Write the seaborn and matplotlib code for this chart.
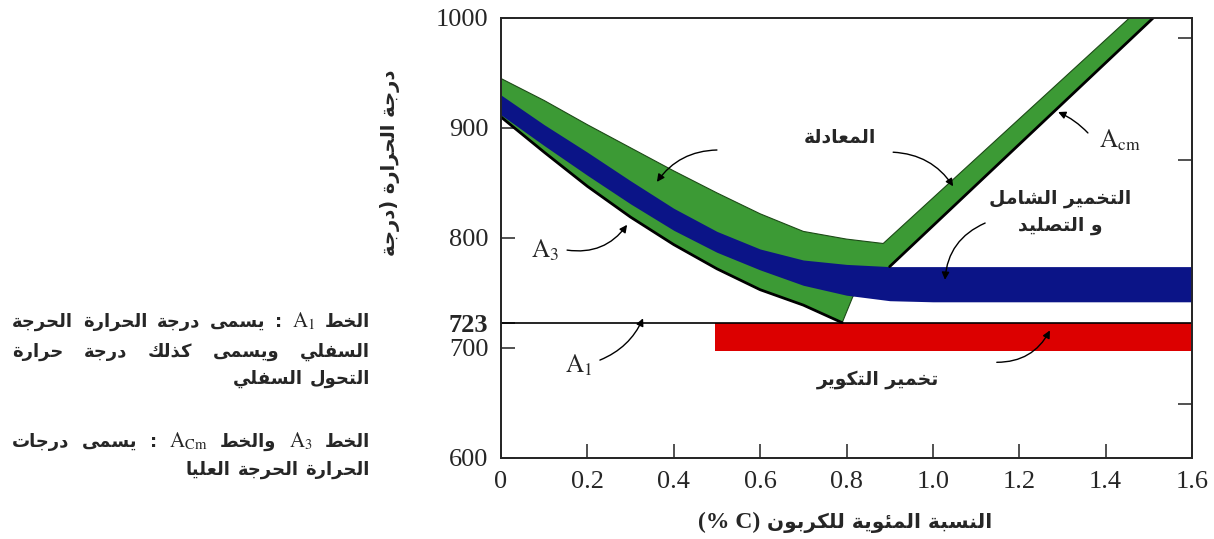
import matplotlib
matplotlib.use("Agg")
import matplotlib.pyplot as plt
import seaborn as sns
import numpy as np

# ---- values (carbon %, temperature C) ----
x_ticks = [0, 0.2, 0.4, 0.6, 0.8, 1.0, 1.2, 1.4, 1.6]
x_tick_labels = ["0", "0.2", "0.4", "0.6", "0.8", "1.0", "1.2", "1.4", "1.6"]
y_ticks = [600, 700, 723, 800, 900, 1000]
right_ticks_f = [1200, 1600, 1800]   # fahrenheit marks on the right spine

A1 = 723

# upper edge of the green (normalising) band, left branch
green_x = [0, 0.1, 0.2, 0.3, 0.4, 0.5, 0.6, 0.7, 0.8, 0.885]
green_top = [945, 925, 903, 882, 861, 841, 822, 806, 799, 795]
# upper edge of the green band, right branch (parallel to Acm)
green_r_x = [1.455]
green_r_t = [1000]

# Acm line
acm_x = [1.51, 0.90]
acm_t = [1000, 774]

# end of the thin green strip under the blue band
strip_x = [0.815]
strip_t = [747]

# A3 line
a3_x = [0, 0.1, 0.2, 0.3, 0.4, 0.5, 0.6, 0.7, 0.79]
a3_t = [910, 878, 847, 819, 794, 772, 753, 739, 723]

# blue band (full annealing / hardening)
blue_x = [0, 0.1, 0.2, 0.3, 0.4, 0.5, 0.6, 0.7, 0.8, 0.9, 1.0, 1.6]
blue_top = [930, 903, 878, 852, 827, 806, 790, 780, 776, 774, 774, 774]
blue_bot = [912, 884, 857, 831, 807, 787, 771, 757, 748, 743, 742, 742]

# red band (spheroidising)
red_x = [0.495, 1.6]
red_lo = [697, 697]
red_hi = [723, 723]

GREEN = "#3c9a35"
BLUE = "#0b1487"
RED = "#dc0000"

# ---- tiny arabic shaper (presentation forms) ----
_forms = {}
for ch, start, n in [("ء", 0xFE80, 1), ("آ", 0xFE81, 2), ("أ", 0xFE83, 2), ("ؤ", 0xFE85, 2),
                     ("إ", 0xFE87, 2), ("ئ", 0xFE89, 4), ("ا", 0xFE8D, 2), ("ب", 0xFE8F, 4),
                     ("ة", 0xFE93, 2), ("ت", 0xFE95, 4), ("ث", 0xFE99, 4), ("ج", 0xFE9D, 4),
                     ("ح", 0xFEA1, 4), ("خ", 0xFEA5, 4), ("د", 0xFEA9, 2), ("ذ", 0xFEAB, 2),
                     ("ر", 0xFEAD, 2), ("ز", 0xFEAF, 2), ("س", 0xFEB1, 4), ("ش", 0xFEB5, 4),
                     ("ص", 0xFEB9, 4), ("ض", 0xFEBD, 4), ("ط", 0xFEC1, 4), ("ظ", 0xFEC5, 4),
                     ("ع", 0xFEC9, 4), ("غ", 0xFECD, 4), ("ف", 0xFED1, 4), ("ق", 0xFED5, 4),
                     ("ك", 0xFED9, 4), ("ل", 0xFEDD, 4), ("م", 0xFEE1, 4), ("ن", 0xFEE5, 4),
                     ("ه", 0xFEE9, 4), ("و", 0xFEED, 2), ("ى", 0xFEEF, 2), ("ي", 0xFEF1, 4)]:
    _forms[ch] = [chr(start + k) for k in range(n)]


def ar(s):
    out = []
    for i, ch in enumerate(s):
        if ch not in _forms:
            out.append(ch)
            continue
        f = _forms[ch]
        prev = s[i - 1] if i > 0 else ""
        nxt = s[i + 1] if i < len(s) - 1 else ""
        jp = prev in _forms and len(_forms[prev]) == 4
        jn = len(f) == 4 and nxt in _forms and len(_forms[nxt]) >= 2
        if jp and jn:
            out.append(f[3])
        elif jp:
            out.append(f[1])
        elif jn:
            out.append(f[2])
        else:
            out.append(f[0])
    vis = "".join(out)[::-1]
    return vis.translate(str.maketrans("()", ")("))


sns.set_theme(style="white")
plt.rcParams["font.family"] = ["Liberation Serif", "DejaVu Sans"]
plt.rcParams["mathtext.fontset"] = "stix"

W, H = 1214, 539
fig = plt.figure(figsize=(W / 100, H / 100), dpi=100)
ax = fig.add_axes([501 / W, 1 - 458 / H, (1192 - 501) / W, (458 - 18) / H])

# green band polygon: top edge, Acm down, strip end, A3 back to x=0
poly_x = green_x + green_r_x + acm_x + strip_x + a3_x[::-1]
poly_t = green_top + green_r_t + acm_t + strip_t + a3_t[::-1]
ax.fill(poly_x, poly_t, color=GREEN, ec="#1d4a17", lw=0.8, zorder=2)
ax.fill_between(blue_x, blue_bot, blue_top, color=BLUE, lw=0, zorder=3)
ax.fill_between(red_x, red_lo, red_hi, color=RED, lw=0, zorder=2)

sns.lineplot(x=a3_x, y=a3_t, ax=ax, color="black", lw=2, zorder=4)
sns.lineplot(x=acm_x, y=acm_t, ax=ax, color="black", lw=2, zorder=4)
ax.axhline(A1, color="black", lw=1.2, zorder=4)

ax.set_xlim(0, 1.6)
ax.set_ylim(600, 1000)
ax.set_xticks(x_ticks)
ax.set_xticklabels(x_tick_labels)
ax.set_yticks(y_ticks)
ax.set_yticklabels([str(v) for v in y_ticks])
ax.tick_params(direction="in", length=10, width=1.1, color="#222222",
               labelsize=19, pad=9, left=True, bottom=True)
for lab in ax.get_yticklabels():
    if lab.get_text() == "723":
        lab.set_fontweight("bold")
for sp in ax.spines.values():
    sp.set_color("#222222")
    sp.set_linewidth(1.3)

ax2 = ax.twinx()
ax2.set_ylim(600, 1000)
ax2.set_yticks([(f - 32) * 5 / 9 for f in right_ticks_f])
ax2.set_yticklabels([])
ax2.tick_params(direction="in", length=10, width=1.1, color="#222222", right=True)
ax2.grid(False)
ax.grid(False)

arab = dict(family="DejaVu Sans", fontweight="bold")
arrow = dict(arrowstyle="-|>", color="black", lw=1, shrinkA=0, shrinkB=0, mutation_scale=11)

ax.text(0.785, 892, ar("المعادلة"), ha="center", va="center", fontsize=13.5, **arab)
ax.annotate("", xy=(0.361, 851), xytext=(0.50, 880),
            arrowprops=dict(arrow, connectionstyle="arc3,rad=0.25"))
ax.annotate("", xy=(1.047, 847), xytext=(0.908, 878),
            arrowprops=dict(arrow, connectionstyle="arc3,rad=-0.25"))

ax.text(1.433, 889, r"$\mathrm{A}_{\mathrm{cm}}$", ha="center", va="center", fontsize=18)
ax.annotate("", xy=(1.29, 914.5), xytext=(1.359, 895.5),
            arrowprops=dict(arrow, connectionstyle="arc3,rad=0.1"))

ax.text(1.294, 836, ar("التخمير الشامل"), ha="center", va="center", fontsize=13.5, **arab)
ax.text(1.294, 811, ar("و التصليد"), ha="center", va="center", fontsize=13.5, **arab)
ax.annotate("", xy=(1.028, 762), xytext=(1.121, 813.6),
            arrowprops=dict(arrow, connectionstyle="arc3,rad=0.3"))

ax.text(0.873, 671, ar("تخمير التكوير"), ha="center", va="center", fontsize=13.5, **arab)
ax.annotate("", xy=(1.271, 716), xytext=(1.148, 687),
            arrowprops=dict(arrow, connectionstyle="arc3,rad=0.3"))

ax.text(0.102, 789, r"$\mathrm{A}_{3}$", ha="center", va="center", fontsize=18)
ax.annotate("", xy=(0.292, 812), xytext=(0.153, 789),
            arrowprops=dict(arrow, connectionstyle="arc3,rad=0.3"))
ax.text(0.181, 684.5, r"$\mathrm{A}_{1}$", ha="center", va="center", fontsize=18)
ax.annotate("", xy=(0.329, 727), xytext=(0.229, 689),
            arrowprops=dict(arrow, connectionstyle="arc3,rad=0.2"))


def place_line(segs, y_px, right=None, left=None, center=None, gap=7):
    r = fig.canvas.get_renderer()
    arts, widths = [], []
    for s, kw in segs:
        t = fig.text(0, 1 - y_px / H, s, ha="left", va="baseline", **kw)
        arts.append(t)
        widths.append(t.get_window_extent(renderer=r).width)
    total = sum(widths)
    if left is not None and len(segs) > 1:
        gap = (right - left - total) / (len(segs) - 1)
    if center is not None:
        right = center + (total + gap * (len(segs) - 1)) / 2
    x = right
    for t, w in zip(arts, widths):
        x -= w
        t.set_x(x / W)
        x -= gap


side = dict(arab, fontsize=13)
lat = dict(fontsize=15)
place_line([(ar("الخط"), side), (r"$\mathrm{A}_{1}$", lat), (":", side),
            (ar("يسمى"), side), (ar("درجة"), side), (ar("الحرارة"), side),
            (ar("الحرجة"), side)], 327, right=370, left=12)
place_line([(ar("السفلي"), side), (ar("ويسمى"), side), (ar("كذلك"), side),
            (ar("درجة"), side), (ar("حرارة"), side)], 357, right=370, left=12)
place_line([(ar("التحول"), side), (ar("السفلي"), side)], 384, right=370)
place_line([(ar("الخط"), side), (r"$\mathrm{A}_{3}$", lat), (ar("والخط"), side),
            (r"$\mathrm{A}_{\mathrm{Cm}}$", lat), (":", side), (ar("يسمى"), side),
            (ar("درجات"), side)], 447, right=370, left=12)
place_line([(ar("الحرارة"), side), (ar("الحرجة"), side), (ar("العليا"), side)],
           475, right=370)

place_line([(ar("النسبة المئوية للكربون"), dict(arab, fontsize=14.5)),
            ("(% C)", dict(fontsize=17, fontweight="bold"))], 528, center=845)

fig.text(390 / W, 1 - 163 / H, ar("درجة الحرارة (درجة"), rotation=90,
         ha="center", va="center", fontsize=14, **arab)

fig.savefig("out.png", dpi=100, facecolor="white")
